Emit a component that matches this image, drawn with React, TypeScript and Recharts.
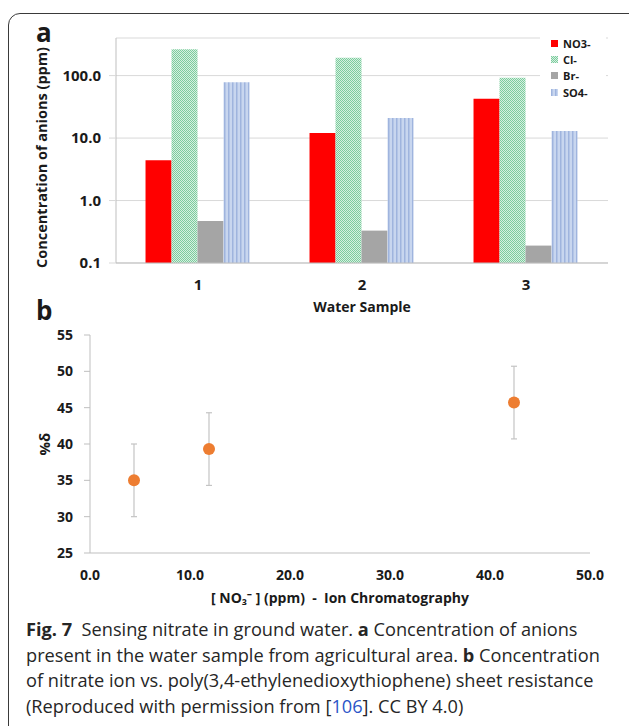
import React from "react"
import {
    BarChart,
    Bar,
    ScatterChart,
    Scatter,
    ErrorBar,
    XAxis,
    YAxis,
    CartesianGrid,
    Legend,
} from "recharts"

// panel a: anion concentrations (ppm, log axis)
const samples = ["1", "2", "3"]
const no3 = [4.4, 12.1, 42.6]
const cl = [265, 193, 92]
const br = [0.47, 0.33, 0.19]
const so4 = [78, 21, 13]
const ticksA = [0.1, 1, 10, 100]

// panel b: %delta vs nitrate from ion chromatography
const nitrate = [4.4, 11.9, 42.4]
const deltaPct = [35.0, 39.3, 45.7]
const deltaErr = [5, 5, 5]
const ticksBx = [0, 10, 20, 30, 40, 50]
const ticksBy = [25, 30, 35, 40, 45, 50, 55]

const series = [
    { key: "no3", name: "NO3-", fill: "#ff0000" },
    { key: "cl", name: "Cl-", fill: "url(#clPat)" },
    { key: "br", name: "Br-", fill: "#a5a5a5" },
    { key: "so4", name: "SO4-", fill: "url(#so4Pat)" },
]

const barData = samples.map((s, i) => ({
    sample: s,
    no3: no3[i],
    cl: cl[i],
    br: br[i],
    so4: so4[i],
}))

const scatterData = nitrate.map((x, i) => ({ x, y: deltaPct[i], err: deltaErr[i] }))

const ink = "#1a1a1a"
const axisGrey = "#bfbfbf"
const sp = "\u00a0"

// keep the series order (recharts sorts the payload by name)
function AnionLegend() {
    return (
        <div style={{ background: "#fff", padding: "2px 0 4px 11px" }}>
            {series.map((s) => (
                <div
                    key={s.key}
                    style={{
                        display: "flex",
                        alignItems: "center",
                        height: 16.3,
                        fontSize: 11,
                        fontWeight: 700,
                        color: ink,
                        lineHeight: 1,
                    }}
                >
                    <svg width={7} height={7} style={{ marginRight: 5 }}>
                        <rect width={7} height={7} fill={s.fill} />
                    </svg>
                    {s.name}
                </div>
            ))}
        </div>
    )
}

const Dot = (props: any) => <circle cx={props.cx} cy={props.cy} r={6} fill="#ed7d31" />

export default function App() {
    return (
        <div
            style={{
                position: "absolute",
                left: 0,
                top: 0,
                width: 629,
                height: 726,
                overflow: "hidden",
                background: "#fff",
                fontFamily: "'Open Sans', sans-serif",
            }}
        >
            <div
                style={{
                    position: "absolute",
                    left: 8,
                    top: 13,
                    width: 660,
                    height: 760,
                    border: "1px solid #3a3a3a",
                    borderRadius: 12,
                }}
            />

            <svg width={629} height={726} style={{ position: "absolute", left: 0, top: 0 }}>
                <text x={36} y={42} fontSize={26} fontWeight={700} fill={ink}>a</text>
                <text x={36} y={320} fontSize={26} fontWeight={700} fill={ink}>b</text>
                <g fontSize={18.2} fill="#262626">
                    <text x={26} y={636}>
                        <tspan fontWeight={700}>Fig. 7</tspan>
                        {sp + sp + "Sensing nitrate in ground water. "}
                        <tspan fontWeight={700}>a</tspan>
                        {" Concentration of anions"}
                    </text>
                    <text x={26} y={661.5}>
                        {"present in the water sample from agricultural area. "}
                        <tspan fontWeight={700}>b</tspan>
                        {" Concentration"}
                    </text>
                    <text x={26} y={687}>
                        of nitrate ion vs. poly(3,4-ethylenedioxythiophene) sheet resistance
                    </text>
                    <text x={26} y={712.5}>
                        {"(Reproduced with permission from ["}
                        <tspan fill="#2b55c8">106</tspan>
                        {"]. CC BY 4.0)"}
                    </text>
                </g>
            </svg>

            <div style={{ position: "absolute", left: 0, top: 0 }}>
                <BarChart
                    width={629}
                    height={320}
                    data={barData}
                    margin={{ top: 38, right: 21, left: 56, bottom: 7 }}
                    barCategoryGap="18%"
                    barGap={0}
                >
                    <defs>
                        <pattern id="clPat" width="2" height="2" patternUnits="userSpaceOnUse">
                            <rect width="2" height="2" fill="#d6f0e0" />
                            <rect width="1" height="1" fill="#7ccc9e" />
                            <rect x="1" y="1" width="1" height="1" fill="#7ccc9e" />
                        </pattern>
                        <pattern id="so4Pat" width="4" height="4" patternUnits="userSpaceOnUse">
                            <rect width="4" height="4" fill="#c8d6ef" />
                            <rect width="1.5" height="4" fill="#9fb4de" />
                        </pattern>
                    </defs>
                    <CartesianGrid vertical={false} stroke="#d9d9d9" />
                    <XAxis
                        dataKey="sample"
                        tickLine={false}
                        tickSize={0}
                        tickMargin={16}
                        height={50}
                        axisLine={{ stroke: axisGrey }}
                        tick={{ fill: ink, fontSize: 15, fontWeight: 700 }}
                        label={{
                            value: "Water Sample",
                            position: "insideBottom",
                            offset: 1,
                            fill: ink,
                            fontSize: 14,
                            fontWeight: 700,
                        }}
                    />
                    <YAxis
                        scale="log"
                        domain={[0.1, 400]}
                        allowDataOverflow
                        ticks={ticksA}
                        width={60}
                        tickSize={7}
                        tickMargin={8}
                        tickLine={{ stroke: "#d9d9d9" }}
                        axisLine={{ stroke: axisGrey }}
                        tick={{ fill: ink, fontSize: 15, fontWeight: 700 }}
                        tickFormatter={(v: number) => v.toFixed(1)}
                        label={{
                            value: "Concentration of anions (ppm)",
                            angle: -90,
                            position: "left",
                            offset: 14,
                            dy: 7,
                            fill: ink,
                            fontSize: 14.5,
                            fontWeight: 700,
                            style: { textAnchor: "middle" },
                        }}
                    />
                    <Legend
                        layout="horizontal"
                        verticalAlign="middle"
                        align="center"
                        content={<AnionLegend />}
                        wrapperStyle={{ left: 540, top: 33, width: 66, height: "auto" }}
                    />
                    {series.map((s) => (
                        <Bar
                            key={s.key}
                            dataKey={s.key}
                            name={s.name}
                            fill={s.fill}
                            isAnimationActive={false}
                        />
                    ))}
                </BarChart>
            </div>

            <div style={{ position: "absolute", left: 0, top: 300 }}>
                <ScatterChart
                    width={629}
                    height={320}
                    margin={{ top: 35, right: 39, left: 30, bottom: 17 }}
                >
                    <XAxis
                        type="number"
                        dataKey="x"
                        domain={[0, 50]}
                        ticks={ticksBx}
                        tickLine={false}
                        tickSize={0}
                        tickMargin={17}
                        height={50}
                        axisLine={{ stroke: axisGrey }}
                        tick={{ fill: ink, fontSize: 14, fontWeight: 700 }}
                        tickFormatter={(v: number) => v.toFixed(1)}
                        label={{
                            value: "[ NO\u2083\u207b ] (ppm) \u00a0-\u00a0 Ion Chromatography",
                            position: "insideBottom",
                            offset: 0,
                            fill: ink,
                            fontSize: 14,
                            fontWeight: 700,
                        }}
                    />
                    <YAxis
                        type="number"
                        dataKey="y"
                        domain={[25, 55]}
                        ticks={ticksBy}
                        width={60}
                        tickSize={6}
                        tickMargin={11}
                        tickLine={{ stroke: axisGrey }}
                        axisLine={{ stroke: axisGrey }}
                        tick={{ fill: ink, fontSize: 14, fontWeight: 700 }}
                        label={{
                            value: "%\u03b4",
                            angle: -90,
                            position: "insideLeft",
                            offset: 15,
                            fill: ink,
                            fontSize: 15,
                            fontWeight: 700,
                            style: { textAnchor: "middle" },
                        }}
                    />
                    <Scatter data={scatterData} shape={Dot} isAnimationActive={false}>
                        <ErrorBar
                            dataKey="err"
                            direction="y"
                            width={3}
                            stroke="#c4c4c4"
                            strokeWidth={1.2}
                            isAnimationActive={false}
                        />
                    </Scatter>
                </ScatterChart>
            </div>
        </div>
    )
}
